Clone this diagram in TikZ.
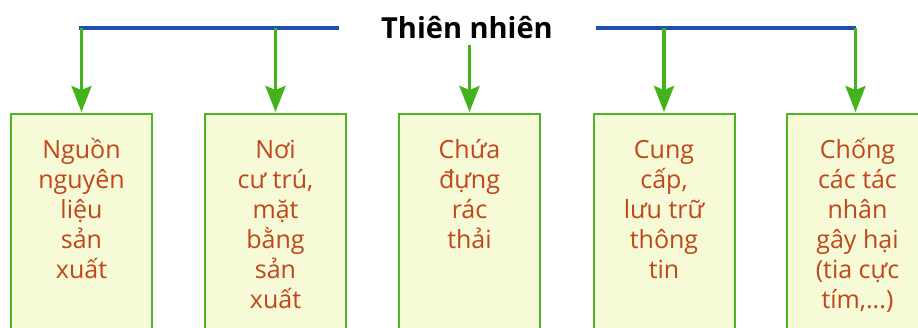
\documentclass[tikz,border=0pt]{standalone}
\usepackage{fontspec}
\setmainfont{Open Sans}
\usetikzlibrary{arrows.meta}
\definecolor{bline}{HTML}{1F4FB3}
\definecolor{garrow}{HTML}{44B21A}
\definecolor{gborder}{HTML}{4DB526}
\definecolor{bfill}{HTML}{F6FAD6}
\definecolor{txt}{HTML}{C1461A}
\tikzset{
  blueline/.style={draw=bline, line width=4pt},
  greenarrow/.style={draw=garrow, line width=3.4pt, -{Stealth[length=26pt,width=20pt,inset=4pt]}, shorten >=1pt},
  boxnode/.style={draw=gborder, line width=2pt, fill=bfill, minimum width=141pt, minimum height=240pt, anchor=north, inner sep=0pt},
  boxtext/.style={text=txt, font=\fontsize{25}{30}\selectfont, align=center, anchor=north, inner sep=0pt},
  titlenode/.style={font=\fontsize{29}{32}\selectfont\bfseries, anchor=base, inner sep=0pt}
}
\newcommand{\fl}{\rule{0pt}{24pt}}
\begin{document}
\begin{tikzpicture}[x=1pt,y=-1pt]
\useasboundingbox (0,0) rectangle (918,327);
\clip (0,0) rectangle (918,327);
\fill[white] (0,0) rectangle (918,327);
% boxes
\node[boxnode] (b1) at (81.5,113) {};
\node[boxnode] (b2) at (275.5,113) {};
\node[boxnode] (b3) at (469.5,113) {};
\node[boxnode] (b4) at (664,113) {};
\node[boxnode] (b5) at (857.5,113) {};
% texts
\node[boxtext] (t1) at (81.5,134) {\fl Nguồn\\nguyên\\liệu\\sản\\xuất};
\node[boxtext] (t2) at (275.5,134) {\fl Nơi\\cư trú,\\mặt\\bằng\\sản\\xuất};
\node[boxtext] (t3) at (469.5,134) {\fl Chứa\\đựng\\rác\\thải};
\node[boxtext] (t4) at (664,134) {\fl Cung\\cấp,\\lưu trữ\\thông\\tin};
\node[boxtext] (t5) at (857.5,134) {\fl Chống\\các tác\\nhân\\gây hại\\(tia cực\\tím,...)};
% title
\node[titlenode] (title) at (467,38) {Thiên nhiên};
% blue lines
\coordinate (l1) at (79,28);
\coordinate (l2) at (339,28);
\coordinate (r1) at (596,28);
\coordinate (r2) at (856,28);
\draw[blueline] (l1) -- (l2);
\draw[blueline] (r1) -- (r2);
% arrows
\draw[greenarrow] (81.5,28) -- (b1.north);
\draw[greenarrow] (275.5,28) -- (b2.north);
\draw[greenarrow] (469.5,45) -- (b3.north);
\draw[greenarrow] (664,28) -- (b4.north);
\draw[greenarrow] (855.5,28) -- (855.5,113);
\end{tikzpicture}
\end{document}
